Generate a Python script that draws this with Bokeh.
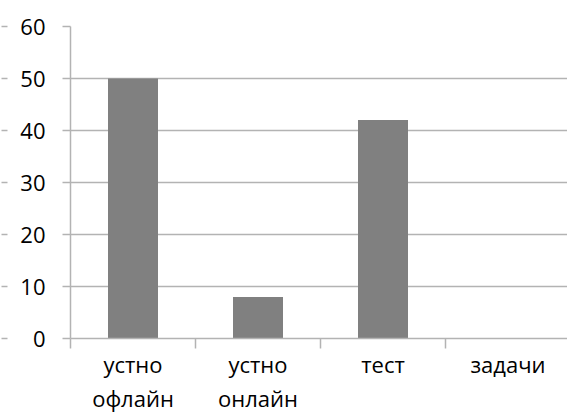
from bokeh.plotting import figure
from bokeh.models import Range1d, FixedTicker, LinearAxis
from bokeh.embed import file_html
from bokeh.resources import INLINE

categories = ["устно\nофлайн", "устно\nонлайн", "тест", "задачи"]
values = [50, 8, 42, 0]
y_ticks = [0, 10, 20, 30, 40, 50, 60]

GRID = "#b3b3b3"
BAR = "#808080"
FONT = "Open Sans"

centers = [i + 0.5 for i in range(len(categories))]

p = figure(width=567, height=417, output_backend="svg", toolbar_location=None,
           x_range=Range1d(0, 497 / 125), y_range=Range1d(0, 60),
           min_border_left=70, min_border_top=26, min_border_bottom=79,
           min_border_right=0)
p.outline_line_color = None
p.background_fill_color = "white"

p.vbar(x=centers, top=values, width=0.4, fill_color=BAR, line_color=None)

# x axis
xa = p.xaxis[0]
xa.ticker = FixedTicker(ticks=centers, minor_ticks=[0, 1, 2, 3, 4])
xa.major_label_overrides = {c: lab for c, lab in zip(centers, categories)}
xa.major_tick_out = 0
xa.major_tick_in = 0
xa.minor_tick_out = 10
xa.minor_tick_in = 0
xa.minor_tick_line_color = GRID
xa.minor_tick_line_width = 1.5
xa.axis_line_color = GRID
xa.axis_line_width = 1.5
xa.major_label_text_font = FONT
xa.major_label_text_font_size = "22px"
xa.major_label_text_line_height = 1.15
xa.major_label_text_color = "black"
xa.major_label_standoff = 0

# y axis
ya = p.yaxis[0]
ya.ticker = FixedTicker(ticks=y_ticks)
ya.major_tick_out = 8
ya.major_tick_in = 0
ya.minor_tick_out = 0
ya.minor_tick_in = 0
ya.major_tick_line_color = GRID
ya.major_tick_line_width = 1.5
ya.axis_line_color = GRID
ya.axis_line_width = 1.5
ya.major_label_text_font = FONT
ya.major_label_text_font_size = "22px"
ya.major_label_text_color = "black"
ya.major_label_standoff = 17

# faint tick marks at the far left edge
ya2 = LinearAxis(ticker=FixedTicker(ticks=y_ticks), axis_line_color=None,
                 minor_tick_out=0, minor_tick_in=0, major_label_standoff=0,
                 major_label_overrides={t: "" for t in y_ticks})
ya2.major_tick_line_color = GRID
ya2.major_tick_line_width = 1.5
ya2.major_tick_out = 16
ya2.major_tick_in = -10
p.add_layout(ya2, "left")

p.xgrid.grid_line_color = None
p.ygrid.ticker = FixedTicker(ticks=y_ticks)
p.ygrid.grid_line_color = GRID
p.ygrid.grid_line_width = 1.5

open("out.html", "w").write(file_html(p, INLINE))
